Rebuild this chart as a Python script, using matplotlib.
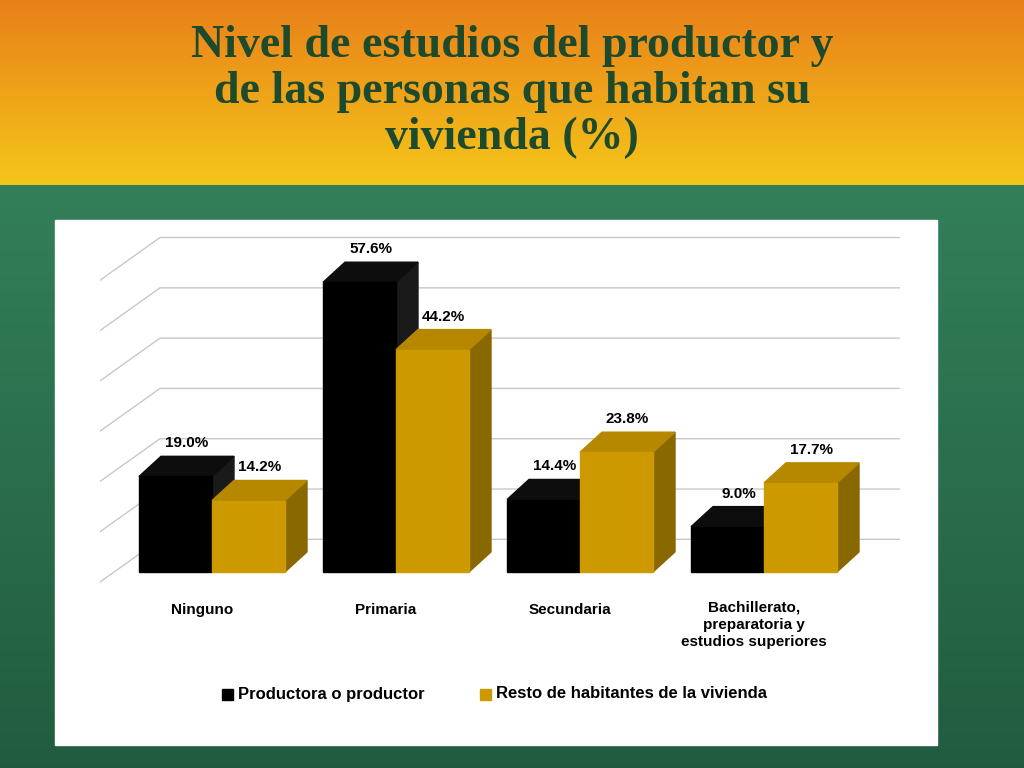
import numpy as np
import matplotlib
matplotlib.use("Agg")
import matplotlib.pyplot as plt
from matplotlib.patches import Polygon, Rectangle

categories = ["Ninguno", "Primaria", "Secundaria", "Bachillerato,\npreparatoria y\nestudios superiores"]
productor = [19.0, 57.6, 14.4, 9.0]
resto = [14.2, 44.2, 23.8, 17.7]
series_names = ["Productora o productor", "Resto de habitantes de la vivienda"]
grid_vals = [0, 10, 20, 30, 40, 50, 60]

fig = plt.figure(figsize=(10.24, 7.68), dpi=100)

# background
bg = fig.add_axes([0, 0, 1, 1]); bg.set_axis_off()
H = 768
img = np.zeros((H, 2, 3))
for r in range(H):
    if r < 185:
        t = r / 185
        c = np.array([0.91, 0.50, 0.10]) * (1 - t) + np.array([0.96, 0.78, 0.10]) * t
    else:
        t = (r - 185) / (H - 185)
        c = np.array([0.20, 0.50, 0.35]) * (1 - t) + np.array([0.13, 0.36, 0.25]) * t
    img[r] = c
bg.imshow(img, aspect="auto", extent=[0, 1, 0, 1])
bg.set_xlim(0, 1); bg.set_ylim(0, 1)
bg.add_patch(Rectangle((55/1024, 1-745/768), 882/1024, 525/768, color="white"))
fig.text(0.5, 1-92/768, "Nivel de estudios del productor y\nde las personas que habitan su\nvivienda (%)",
         ha="center", va="center", fontsize=33, fontweight="bold", family="Liberation Serif",
         color="#1d4a2c", linespacing=1.12)

ax = fig.add_axes([100/1024, 1-590/768, 800/1024, 360/768])
ax.set_xlim(0, 4); ax.set_ylim(-3.58, 68)
ax.set_axis_off()

# grid (floor/back wall perspective)
for v in grid_vals:
    ax.plot([0, 0.3, 4], [v - 2, v + 6.5, v + 6.5], color="#c8c8c8", lw=1, zorder=0)

dx, dy = 0.11, 4.0
w = 0.365
centers = 0.56 + 0.92 * np.arange(len(categories))
styles = [("#000000", "#1a1a1a", "#0d0d0d"), ("#CC9900", "#8a6800", "#b58800")]
for s, vals in enumerate([productor, resto]):
    front, side, top = styles[s]
    for i, v in enumerate(vals):
        x0 = centers[i] - w + s * w
        x1 = x0 + w
        ax.add_patch(Polygon([(x1, 0), (x1 + dx, dy), (x1 + dx, v + dy), (x1, v)], color=side, zorder=2+i*2+s))
        ax.add_patch(Polygon([(x0, v), (x0 + dx, v + dy), (x1 + dx, v + dy), (x1, v)], color=top, zorder=2+i*2+s))
        ax.add_patch(Rectangle((x0, 0), w, v, color=front, zorder=2+i*2+s))
        ax.text((x0 + x1) / 2 + dx / 2, v + dy + 1.2, f"{v:.1f}%", ha="center", va="bottom",
                fontsize=11, fontweight="bold", family="Liberation Sans", zorder=20)

for i, c in enumerate(categories):
    ax.text(centers[i] - 0.05, -7.5, c, ha="center", va="center" if i < 3 else "top",
            fontsize=11, fontweight="bold", family="Liberation Sans", clip_on=False, linespacing=1.3)
ax.texts[-1].set_y(-5.7)

# legend
for k, (name, col) in enumerate(zip(series_names, ["#000000", "#CC9900"])):
    xs = [222, 480][k] / 1024
    fig.patches.append(Rectangle((xs, 1-700/768), 11/1024, 11/768, color=col, transform=fig.transFigure))
    fig.text(xs + 16/1024, 1-694/768, name, ha="left", va="center", fontsize=12,
             fontweight="bold", family="Liberation Sans")

fig.savefig("out.png", dpi=100)
